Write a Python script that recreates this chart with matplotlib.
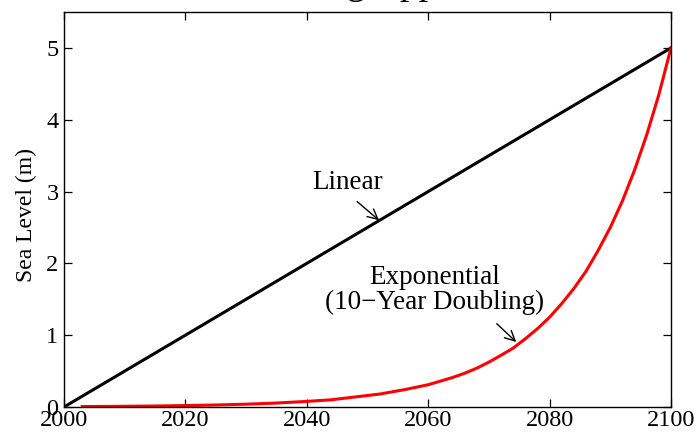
import matplotlib
matplotlib.use("Agg")
import matplotlib.pyplot as plt

plt.rcParams["font.family"] = ["Liberation Serif", "DejaVu Serif"]

# linear rise: straight line from 0 m to 5 m
lin_years = [2000, 2100]
lin_level = [0.0, 5.0]

# exponential rise, level doubling every 10 years (values read per year)
exp_years = [2003, 2010, 2015, 2020, 2025, 2030, 2035, 2040, 2044, 2048,
             2052, 2056, 2060, 2062, 2064, 2066, 2068, 2070, 2072, 2074,
             2076, 2078, 2080, 2082, 2084, 2086, 2088, 2090, 2092, 2094,
             2096, 2098, 2100]
exp_level = [0.006, 0.010, 0.014, 0.020, 0.028, 0.039, 0.055, 0.078, 0.10, 0.14,
             0.18, 0.24, 0.31, 0.36, 0.41, 0.47, 0.54, 0.625, 0.72, 0.82,
             0.95, 1.09, 1.25, 1.44, 1.65, 1.89, 2.18, 2.50, 2.87, 3.30,
             3.79, 4.35, 5.00]

x_ticks = [2000, 2020, 2040, 2060, 2080, 2100]
y_ticks = [0, 1, 2, 3, 4, 5]

fig = plt.figure(figsize=(6.98, 4.32), dpi=100)
ax = fig.add_axes([64 / 698, 25 / 432, 607 / 698, 395 / 432])

ax.plot(lin_years, lin_level, color="black", lw=2.2, solid_capstyle="butt")
ax.plot(exp_years, exp_level, color="#FF0000", lw=2.2)

ax.set_xlim(2000, 2100)
ax.set_ylim(0, 5.5)
ax.set_xticks(x_ticks)
ax.set_yticks(y_ticks)
ax.tick_params(direction="in", length=6, width=0.9, labelsize=17.5,
               top=True, right=True)
ax.tick_params(axis="y", pad=4)
ax.tick_params(axis="x", pad=2.5)
for s in ax.spines.values():
    s.set_linewidth(1.0)
ax.set_ylabel("Sea Level (m)", fontsize=17)
ax.yaxis.set_label_coords(-0.044, 0.486)

arrow = dict(arrowstyle="->", lw=1.0, color="black", mutation_scale=18,
             shrinkA=0, shrinkB=0)

ax.text(2046.8, 3.13, "Linear", fontsize=19.5, ha="center", va="center")
ax.annotate("", xy=(2051.9, 2.60), xytext=(2048.3, 2.86), arrowprops=arrow)

ax.text(2061.1, 1.63, "Exponential\n(10\u2212Year Doubling)", fontsize=19.5,
        ha="center", va="center", linespacing=1.0)
ax.annotate("", xy=(2074.5, 0.905), xytext=(2071.3, 1.16), arrowprops=arrow)

# title line sits mostly above the canvas
fig.text(224 / 698, 1.0 + 6 / 432, "Doubling Approach", fontsize=27,
         ha="left", va="baseline")

fig.savefig("out.png", dpi=100, facecolor="white")
